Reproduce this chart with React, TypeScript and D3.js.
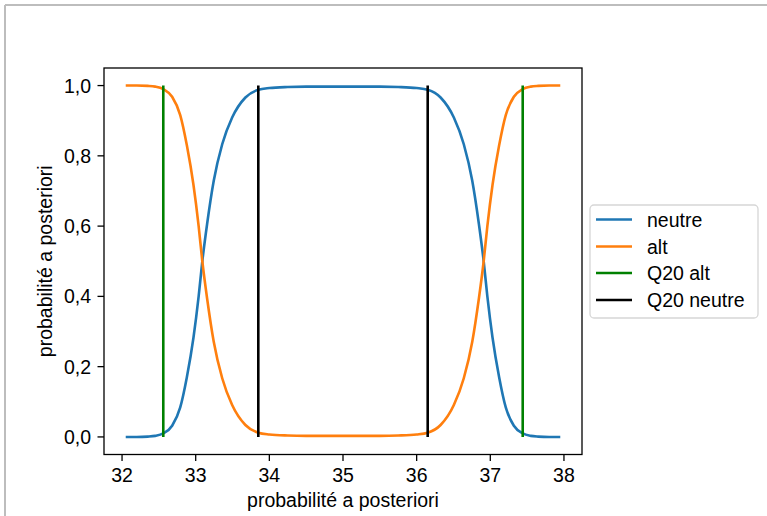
import React from "react";
import * as d3 from "d3";

const xValues = [
  32.05, 32.2, 32.35, 32.45, 32.56, 32.68, 32.79, 32.88, 32.97, 33.04, 33.09, 33.155, 33.245, 33.36, 33.495, 33.675, 33.85, 34.0, 34.25, 34.5, 34.75, 35.0,
  35.25, 35.5, 35.75, 36.0, 36.15, 36.325, 36.505, 36.64, 36.755, 36.845, 36.91, 36.96, 37.03, 37.12, 37.21, 37.32, 37.44, 37.55, 37.65, 37.8, 37.95,
];
const neutreValues = [
  0.0, 0.0, 0.001, 0.003, 0.01, 0.032, 0.084, 0.17, 0.283, 0.4, 0.5, 0.606, 0.729, 0.833, 0.909, 0.966, 0.988, 0.993, 0.996, 0.997, 0.997, 0.997,
  0.997, 0.997, 0.996, 0.993, 0.988, 0.966, 0.909, 0.833, 0.729, 0.606, 0.5, 0.4, 0.283, 0.17, 0.084, 0.032, 0.01, 0.003, 0.001, 0.0, 0.0,
];
const altValues = [
  1.0, 1.0, 0.999, 0.997, 0.99, 0.968, 0.916, 0.83, 0.717, 0.6, 0.5, 0.394, 0.271, 0.167, 0.091, 0.034, 0.012, 0.007, 0.004, 0.003, 0.003, 0.003,
  0.003, 0.003, 0.004, 0.007, 0.012, 0.034, 0.091, 0.167, 0.271, 0.394, 0.5, 0.6, 0.717, 0.83, 0.916, 0.968, 0.99, 0.997, 0.999, 1.0, 1.0,
];
const q20Alt = [32.56, 37.44];
const q20Neutre = [33.85, 36.15];
const xTicks = [32, 33, 34, 35, 36, 37, 38];
const yTicks = [0, 0.2, 0.4, 0.6, 0.8, 1.0];
const legendLabels = ["neutre", "alt", "Q20 alt", "Q20 neutre"];
const legendColors = ["#1f77b4", "#ff7f0e", "#008000", "#000000"];

const W = 767;
const H = 516;
const FONT = "'Liberation Sans', Arial, Helvetica, sans-serif";
const FS = 19.5;
const LW = 2.6;
const SW = 1.3;

export default function App() {
  const left = 104, right = 582, top = 68, bottom = 454.5;
  const x = d3.scaleLinear().domain([31.755, 38.245]).range([left, right]);
  const y = d3.scaleLinear().domain([-0.05, 1.05]).range([bottom, top]);
  const line = d3
    .line<number>()
    .x((_, i) => x(xValues[i]))
    .y((d) => y(d))
    .curve(d3.curveMonotoneX);
  const fmt = (v: number) => v.toFixed(1).replace(".", ",");

  const legX = 590, legY = 205, legW = 168, legH = 113;
  const rowY = [219.5, 246.5, 273, 300];

  return (
    <div style={{ position: "absolute", left: 0, top: 0 }}>
      <svg width={W} height={H} style={{ display: "block", fontFamily: FONT }}>
        <rect x={0} y={0} width={W} height={H} fill="#fff" />
        <line x1={5} y1={5} x2={W} y2={5} stroke="#bdbdbd" strokeWidth={2} />
        <line x1={5} y1={5} x2={5} y2={H} stroke="#bdbdbd" strokeWidth={2} />

        <path d={line(neutreValues) || ""} fill="none" stroke="#1f77b4" strokeWidth={LW} />
        <path d={line(altValues) || ""} fill="none" stroke="#ff7f0e" strokeWidth={LW} />
        {q20Alt.map((v, i) => (
          <line key={"g" + i} x1={x(v)} x2={x(v)} y1={y(0)} y2={y(1)} stroke="#008000" strokeWidth={LW} />
        ))}
        {q20Neutre.map((v, i) => (
          <line key={"k" + i} x1={x(v)} x2={x(v)} y1={y(0)} y2={y(1)} stroke="#000" strokeWidth={LW} />
        ))}

        <rect x={left} y={top} width={right - left} height={bottom - top} fill="none" stroke="#000" strokeWidth={SW} />

        {xTicks.map((t) => (
          <g key={"xt" + t}>
            <line x1={x(t)} x2={x(t)} y1={bottom} y2={bottom + 6.5} stroke="#000" strokeWidth={SW} />
            <text x={x(t)} y={482} textAnchor="middle" fontSize={FS} fill="#000">
              {t}
            </text>
          </g>
        ))}
        {yTicks.map((t) => (
          <g key={"yt" + t}>
            <line x1={left - 6.5} x2={left} y1={y(t)} y2={y(t)} stroke="#000" strokeWidth={SW} />
            <text x={91} y={y(t) + 7} textAnchor="end" fontSize={FS} fill="#000">
              {fmt(t)}
            </text>
          </g>
        ))}

        <text x={(left + right) / 2} y={507} textAnchor="middle" fontSize={FS} fill="#000">
          probabilité a posteriori
        </text>
        <text
          transform={`translate(52, ${(top + bottom) / 2}) rotate(-90)`}
          textAnchor="middle"
          fontSize={FS}
          fill="#000"
        >
          probabilité a posteriori
        </text>

        <rect x={legX} y={legY} width={legW} height={legH} rx={4} fill="#fff" fillOpacity={0.8} stroke="#d6d6d6" strokeWidth={1.3} />
        {legendLabels.map((lab, i) => (
          <g key={lab}>
            <line x1={596} x2={632} y1={rowY[i]} y2={rowY[i]} stroke={legendColors[i]} strokeWidth={LW} />
            <text x={647} y={rowY[i] + 7} fontSize={FS} fill="#000">
              {lab}
            </text>
          </g>
        ))}
      </svg>
    </div>
  );
}
